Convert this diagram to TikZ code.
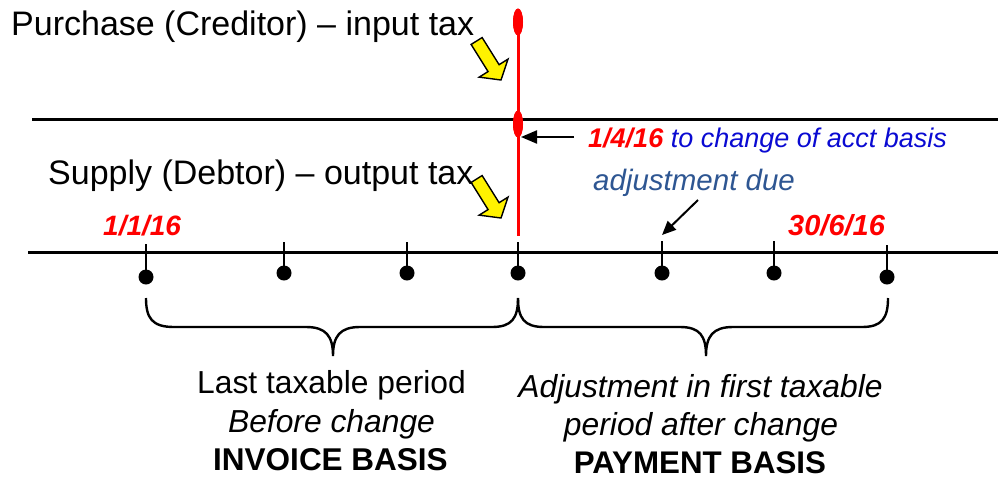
\documentclass[tikz,border=0pt]{standalone}
\usepackage{fontspec}
\setmainfont{Liberation Sans}
\usetikzlibrary{shapes.geometric,arrows.meta}
\definecolor{tblue}{RGB}{10,10,210}
\definecolor{adjblue}{RGB}{46,86,146}
\definecolor{tred}{RGB}{255,0,0}
\newcommand\myfs[1]{\fontsize{#1}{#1}\selectfont}
\begin{document}
\begin{tikzpicture}[x=1pt,y=-1pt,
  hline/.style={line width=3pt,black},
  tickline/.style={line width=2.6pt,black},
  dotnode/.style={circle,fill=black,inner sep=0pt,minimum size=15pt},
  redell/.style={ellipse,fill=tred,inner sep=0pt,minimum width=10pt,minimum height=27pt},
  redline/.style={line width=3pt,tred},
  yarrow/.style={draw=black,fill=yellow,line width=1.4pt,line join=miter},
  blkarrow/.style={line width=2.2pt,-{Triangle[length=16pt,width=13pt]}},
  bracestyle/.style={line width=2.4pt,black},
  txt/.style={inner sep=0pt,anchor=base}
]
\useasboundingbox (0,0) rectangle (998,483);

% horizontal lines
\coordinate (tlL) at (32,119); \coordinate (tlR) at (998,119);
\coordinate (blL) at (28,252); \coordinate (blR) at (998,252);
\draw[hline] (tlL) -- (tlR);
\draw[hline] (blL) -- (blR);

% red vertical line with ellipses
\node[redell] (e1) at (518,22) {};
\node[redell] (e2) at (518,124) {};
\coordinate (rb) at (518,236);
\draw[redline] (e1.center) -- (rb);
\node[redell] at (e1) {};
\node[redell] at (e2) {};

% ticks and dots
\foreach \n/\x/\t/\d in {1/146/244/277, 2/284/242/273, 3/407/242/273, 4/518/242/273, 5/662/241/273, 6/774/241/273, 7/887/245/277}{
  \coordinate (k\n) at (\x,\t);
  \node[dotnode] (d\n) at (\x,\d) {};
  \draw[tickline] (k\n) -- (d\n.center);
}

% yellow arrows
\begin{scope}[shift={(501,80)},rotate=-58]
  \draw[yarrow] (0,0) -- (-14,17) -- (-14,6.5) -- (-46,6.5) -- (-46,-6.5) -- (-14,-6.5) -- (-14,-17) -- cycle;
\end{scope}
\begin{scope}[shift={(501,218)},rotate=-58]
  \draw[yarrow] (0,0) -- (-14,17) -- (-14,6.5) -- (-46,6.5) -- (-46,-6.5) -- (-14,-6.5) -- (-14,-17) -- cycle;
\end{scope}

% black arrows
\coordinate (a1s) at (574,137); \coordinate (a1e) at (521,137);
\draw[blkarrow] (a1s) -- (a1e);
\coordinate (a2s) at (698,200); \coordinate (a2e) at (662,235);
\draw[blkarrow,line width=2pt,-{Triangle[length=14pt,width=12pt]}] (a2s) -- (a2e);

% braces
\draw[bracestyle] (146,298) .. controls (146,318) and (152,327) .. (174,327)
  -- (306,327) .. controls (326,327) and (333,336) .. (333,356)
  .. controls (333,336) and (340,327) .. (360,327)
  -- (492,327) .. controls (512,327) and (518,318) .. (518,298);
\draw[bracestyle] (518,298) .. controls (518,318) and (524,327) .. (544,327)
  -- (680,327) .. controls (700,327) and (706,336) .. (706,356)
  .. controls (706,336) and (713,327) .. (733,327)
  -- (862,327) .. controls (882,327) and (888,318) .. (888,298);

% texts
\node[txt,anchor=base west] (purch) at (11,35) {\myfs{34}Purchase (Creditor) – input tax};
\node[txt,anchor=base west] (supp) at (48,184) {\myfs{34}Supply (Debtor) – output tax};
\node[txt,anchor=base west] (chg) at (588,147) {\myfs{27}{\color{tred}\bfseries\itshape 1/4/16} {\color{tblue}\itshape to change of acct basis}};
\node[txt,anchor=base west] (adj) at (593,190) {\myfs{29.5}\color{adjblue}\itshape adjustment due};
\node[txt,anchor=base west] (dA) at (103,235) {\myfs{28}\color{tred}\bfseries\itshape 1/1/16};
\node[txt,anchor=base west] (dB) at (788,235) {\myfs{29}\color{tred}\bfseries\itshape 30/6/16};

\node[txt] (l1) at (331.5,393) {\myfs{31.8}Last taxable period};
\node[txt] (l2) at (331.5,432) {\myfs{31.8}\itshape Before change};
\node[txt] (l3) at (330.5,470) {\myfs{31.5}\bfseries INVOICE BASIS};
\node[txt] (r1) at (700.5,397) {\myfs{31.8}\itshape Adjustment in first taxable};
\node[txt] (r2) at (701,435) {\myfs{31.8}\itshape period after change};
\node[txt] (r3) at (700,473) {\myfs{31.3}\bfseries PAYMENT BASIS};
\end{tikzpicture}
\end{document}
